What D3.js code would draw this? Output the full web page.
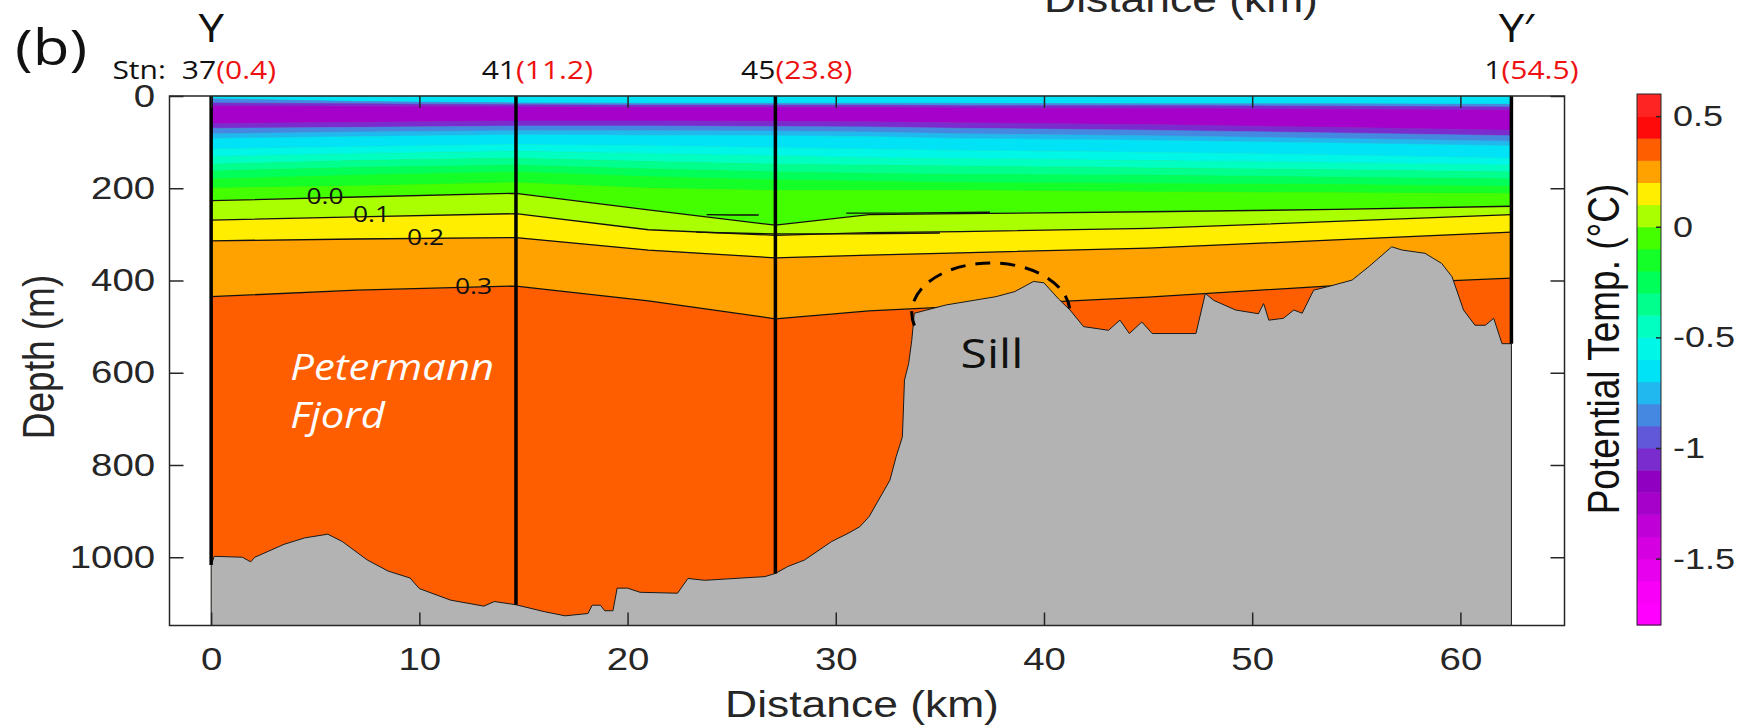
<!DOCTYPE html>
<html>
<head>
<meta charset="utf-8">
<script src="https://cdn.jsdelivr.net/npm/d3@7"></script>
<style>
  body { margin: 0; background: #fff; }
  svg { display: block; }
</style>
</head>
<body>
<div id="grafico"></div>
<script>
const tempLevels = [-1.8, -1.7, -1.6, -1.5, -1.4, -1.3, -1.2, -1.1, -1.0, -0.9, -0.8, -0.7,
                    -0.6, -0.5, -0.4, -0.3, -0.2, -0.1, 0.0, 0.1, 0.2, 0.3, 0.4, 0.5]
const palette = ['#ff00ff', '#f800f8', '#e600ee', '#d400e2', '#bf00d6', '#a600cb', '#9000c0', '#7a2ccf',
                 '#6058d8', '#4488e2', '#20b8ee', '#00e2f6', '#00f6e6', '#00ffc0', '#00ff8c', '#00ff58',
                 '#14ff28', '#44ff00', '#aaff00', '#ffee00', '#ffa200', '#ff5e00', '#ff0a0a', '#ff2424']

// distances (km) where the layer depths were read
const gridKm = [0, 7, 14.64, 21, 27.1, 31.6, 36, 45, 54, 62.45]

// upper water column: band temperature (lower bound) and depth of its bottom (m)
const upperLevels = [-0.7, -0.9, -1.1, -1.3, -1.1, -0.9, -0.8, -0.7, -0.6, -0.5, -0.4, -0.3, -0.2]
const upperDepths = [
  [6, 12, 15, 16, 16, 16, 16, 17, 17, 18],
  [15, 17, 19, 20, 20, 20, 21, 21, 22, 24],
  [22, 23, 24, 25, 25, 25, 26, 27, 29, 31],
  [60, 57, 54, 54, 55, 56, 58, 62, 68, 74],
  [70, 68, 65, 65, 66, 67, 70, 74, 80, 86],
  [82, 78, 75, 75, 76, 78, 82, 86, 92, 98],
  [92, 88, 84, 85, 86, 88, 92, 96, 102, 108],
  [115, 110, 105, 108, 112, 115, 118, 122, 128, 135],
  [132, 125, 120, 125, 130, 134, 136, 140, 145, 150],
  [148, 140, 135, 142, 148, 150, 152, 156, 160, 165],
  [163, 155, 150, 158, 165, 168, 170, 172, 176, 180],
  [180, 172, 165, 175, 182, 185, 188, 190, 192, 196],
  [200, 195, 188, 200, 205, 205, 205, 208, 210, 212]
]

// labelled isotherms (m)
const contourNames = ['0.0', '0.1', '0.2', '0.3']
const contour00 = [227, 219, 211, 247, 280, 257, 255, 251, 246, 239]
const contour01 = [269, 262, 255, 290, 302, 296, 294, 287, 272, 257]
const contour02 = [314, 310, 307, 334, 351, 345, 340, 330, 312, 295]
const contour03 = [435, 421, 412, 444, 483, 466, 456, 436, 411, 395]
const contourLabelKm = [5.47, 7.7, 10.3, 12.6]
const contourLabelDepth = [217, 256, 306, 412]

// small closed isotherms in the middle of the section
const lensKm = [[23.8, 25, 26.3], [30.5, 33, 37.4], [23.3, 25, 27.1, 31, 35]]
const lensDepth = [[257, 258, 258], [254, 254, 252], [295, 297, 299, 299, 297]]

// bottom topography
const bathyKm = [0, 0.15, 1.5, 1.9, 2.1, 3.5, 4.5, 5.6, 6.3, 7.5, 8.5, 9.55, 10, 11.5, 13.1, 13.6, 14.64,
                 16, 17, 18.1, 18.3, 18.7, 18.9, 19.3, 19.5, 20, 20.6, 22.4, 22.9, 23.7, 26.6, 27.1, 27.7,
                 28.5, 29.8, 30.6, 31.15, 31.6, 32.6, 32.9, 33.2, 33.3, 33.5, 33.65, 33.77, 35.3, 37.7, 38.6,
                 39.5, 40, 40.7, 41.25, 41.9, 43.1, 43.65, 44.1, 44.7, 45.2, 47.3, 47.75, 48.15, 49.2, 50.3,
                 50.55, 50.8, 51.5, 52, 52.4, 52.95, 53.75, 54.8, 55.6, 56.7, 57.2, 58.3, 59.1, 59.6, 60.15,
                 60.7, 61.2, 61.6, 62, 62.45]
const bathyDepth = [1017, 998, 1000, 1010, 1000, 972, 958, 950, 966, 1006, 1030, 1045, 1068, 1093, 1106, 1096, 1103,
                    1118, 1127, 1122, 1104, 1104, 1116, 1116, 1067, 1067, 1076, 1078, 1046, 1050, 1042, 1035, 1020,
                    1006, 966, 948, 934, 912, 833, 782, 739, 616, 580, 530, 471, 453, 435, 424,
                    402, 405, 440, 464, 500, 508, 486, 515, 490, 515, 515, 428, 443, 464, 472,
                    450, 486, 482, 464, 471, 421, 412, 399, 370, 327, 334, 341, 363, 392, 464,
                    497, 497, 482, 537, 537]

// CTD stations
const stationKm = [0, 14.64, 27.1, 62.45]
const stationIds = ['37', '41', '45', '1']
const stationDist = ['(0.4)', '(11.2)', '(23.8)', '(54.5)']
const stationBottom = [1017, 1103, 1035, 537]

const xTicks = [0, 10, 20, 30, 40, 50, 60]
const yTicks = [0, 200, 400, 600, 800, 1000]
const cbTicks = [0.5, 0, -0.5, -1, -1.5]
const cbTickLabels = ['0.5', '0', '-0.5', '-1', '-1.5']

// dashed arch over the sill (centre km / m, radii km / m)
const sillArc = { km: 37.45, depth: 470, rxKm: 3.8, ryM: 108 }

// ---- drawing ----
const width = 1739
const height = 726
const SX = 1.2      // the published figure is stretched sideways, text too
const ink = '#262626'
const arial = 'Liberation Sans, Arial, sans-serif'
const humanist = 'Open Sans, Noto Sans, sans-serif'

const x = d3.scaleLinear().domain([-2, 65]).range([169.5, 1564.5])
const y = d3.scaleLinear().domain([0, 1148]).range([96, 625.5])
const cbY = d3.scaleLinear().domain([-1.8, 0.6]).range([625, 94])
const color = d3.scaleThreshold().domain(tempLevels.slice(1)).range(palette)
const colorOf = t => color(t + 0.05)

const svg = d3.select('#grafico')
              .append('svg')
              .attr('width', width)
              .attr('height', height)

svg.append('rect')
   .attr('width', width)
   .attr('height', height)
   .attr('fill', '#fff')

const addText = (px, py, str, size, family, anchor) => svg.append('text')
    .attr('transform', `translate(${px},${py}) scale(${SX},1)`)
    .attr('font-family', family)
    .attr('font-size', size)
    .attr('text-anchor', anchor)
    .text(str)

const xEnd = stationKm[stationKm.length - 1]

// deepest class fills everything first
svg.append('rect')
   .attr('x', x(0))
   .attr('y', y(0))
   .attr('width', x(xEnd) - x(0))
   .attr('height', y(1148) - y(0))
   .attr('fill', colorOf(0.3))

// colour bands, surface downwards
const bandLevels = [...upperLevels, -0.1, 0.0, 0.1, 0.2]
const bandBottoms = [...upperDepths, contour00, contour01, contour02, contour03]
const surface = gridKm.map(() => 0)

const band = d3.area()
               .x(d => x(d.km))
               .y0(d => y(d.top))
               .y1(d => y(d.bottom))

svg.append('g')
   .selectAll('path')
   .data(bandLevels.map((lvl, i) => ({
       level: lvl,
       pts: gridKm.map((km, j) => ({ km, top: i === 0 ? surface[j] : bandBottoms[i - 1][j], bottom: bandBottoms[i][j] }))
   })))
   .enter()
   .append('path')
   .attr('d', d => band(d.pts))
   .attr('fill', d => colorOf(d.level))
   .attr('stroke', d => colorOf(d.level))
   .attr('stroke-width', 0.6)

// isotherm lines
const line = d3.line()
               .x(d => x(d[0]))
               .y(d => y(d[1]))

const isoLines = [contour00, contour01, contour02, contour03].map(arr => gridKm.map((km, j) => [km, arr[j]]))
lensKm.forEach((kms, i) => isoLines.push(kms.map((km, j) => [km, lensDepth[i][j]])))

svg.append('g')
   .selectAll('path')
   .data(isoLines)
   .enter()
   .append('path')
   .attr('d', line)
   .attr('fill', 'none')
   .attr('stroke', '#111')
   .attr('stroke-width', 1.3)

// sea floor
const floor = d3.area()
                .x(d => x(d[0]))
                .y0(y(1148))
                .y1(d => y(d[1]))

svg.append('path')
   .attr('d', floor(bathyKm.map((km, i) => [km, bathyDepth[i]])))
   .attr('fill', '#b3b3b3')
   .attr('stroke', '#1a1a1a')
   .attr('stroke-width', 1)
   .attr('stroke-linejoin', 'round')

// station casts
svg.append('g')
   .selectAll('line')
   .data(stationKm)
   .enter()
   .append('line')
   .attr('x1', d => x(d))
   .attr('x2', d => x(d))
   .attr('y1', y(0))
   .attr('y2', (d, i) => y(stationBottom[i]))
   .attr('stroke', '#000')
   .attr('stroke-width', 3.5)

// contour labels
contourNames.forEach((name, i) => {
    addText(x(contourLabelKm[i]), y(contourLabelDepth[i]), name, 22, humanist, 'middle')
        .attr('dy', '0.36em')
        .attr('fill', '#111')
})

// dashed sill outline
const a0 = 195 * Math.PI / 180
const a1 = 5 * Math.PI / 180
const rxPx = x(sillArc.km + sillArc.rxKm) - x(sillArc.km)
const ryPx = y(sillArc.depth + sillArc.ryM) - y(sillArc.depth)
const cx = x(sillArc.km)
const cy = y(sillArc.depth)
svg.append('path')
   .attr('d', `M${cx + rxPx * Math.cos(a0)},${cy - ryPx * Math.sin(a0)} A${rxPx},${ryPx} 0 1 1 ${cx + rxPx * Math.cos(a1)},${cy - ryPx * Math.sin(a1)}`)
   .attr('fill', 'none')
   .attr('stroke', '#000')
   .attr('stroke-width', 3)
   .attr('stroke-dasharray', '15,10')

addText(x(37.5), y(590), 'Sill', 40, humanist, 'middle').attr('fill', '#111')

svg.append('text')
   .attr('transform', `translate(${x(3.8)},${y(616)}) scale(1.13,1)`)
   .attr('font-family', humanist)
   .attr('font-size', 37)
   .attr('font-style', 'italic')
   .attr('fill', '#fff')
   .selectAll('tspan')
   .data(['Petermann', 'Fjord'])
   .enter()
   .append('tspan')
   .attr('x', 0)
   .attr('y', (d, i) => i * 48)
   .text(d => d)

// axes, MATLAB style ticks pointing inwards
const styleAxis = g => {
    g.attr('font-family', arial)
     .attr('font-size', 32)
     .attr('color', ink)
    g.select('.domain').remove()
    g.selectAll('.tick line').attr('stroke-width', 1.5)
    g.selectAll('.tick text').attr('transform', `scale(${SX},1)`)
}

svg.append('g')
   .attr('transform', `translate(0,${y(1148)})`)
   .call(d3.axisBottom(x).tickValues(xTicks).tickSizeInner(-13).tickSizeOuter(0).tickPadding(22).tickFormat(d3.format('d')))
   .call(styleAxis)

svg.append('g')
   .attr('transform', `translate(0,${y(0)})`)
   .call(d3.axisTop(x).tickValues(xTicks).tickSizeInner(-12).tickSizeOuter(0).tickFormat(''))
   .call(styleAxis)

svg.append('g')
   .attr('transform', `translate(${x(-2)},0)`)
   .call(d3.axisLeft(y).tickValues(yTicks).tickSizeInner(-14).tickSizeOuter(0).tickPadding(12).tickFormat(d3.format('d')))
   .call(styleAxis)

svg.append('g')
   .attr('transform', `translate(${x(65)},0)`)
   .call(d3.axisRight(y).tickValues(yTicks).tickSizeInner(-14).tickSizeOuter(0).tickFormat(''))
   .call(styleAxis)

svg.append('rect')
   .attr('x', x(-2))
   .attr('y', y(0))
   .attr('width', x(65) - x(-2))
   .attr('height', y(1148) - y(0))
   .attr('fill', 'none')
   .attr('stroke', ink)
   .attr('stroke-width', 1.5)

addText(862, 717, 'Distance (km)', 37, arial, 'middle').attr('fill', ink)
addText(1181, 11.5, 'Distance (km)', 37, arial, 'middle').attr('fill', ink)

svg.append('text')
   .attr('transform', `translate(53.5,357) scale(${SX},1) rotate(-90)`)
   .attr('font-family', arial)
   .attr('font-size', 37)
   .attr('text-anchor', 'middle')
   .attr('fill', ink)
   .text('Depth (m)')

// station header
const frameRight = x(65)
stationKm.forEach((km, i) => {
    let joint = x(km) + (i === 0 ? 5 : 0)
    const red = addText(joint, 79, stationDist[i], 25, humanist, 'start').attr('fill', '#ee1111')
    const redW = red.node().getComputedTextLength() * SX
    if (joint + redW > frameRight + 14) {
        joint = frameRight + 14 - redW
        red.attr('transform', `translate(${joint},79) scale(${SX},1)`)
    }
    const id = addText(joint, 79, stationIds[i], 25, humanist, 'end').attr('fill', '#111')
    if (i === 0) {
        const idW = id.node().getComputedTextLength() * SX
        addText(joint - idW - 16, 79, 'Stn:', 25, humanist, 'end').attr('fill', '#111')
    }
})

addText(x(stationKm[0]), 42, 'Y', 38, humanist, 'middle').attr('fill', '#111')
addText(x(xEnd), 42, 'Y', 38, humanist, 'middle').attr('fill', '#111')
addText(x(xEnd) + 12, 42, '\u2032', 38, humanist, 'start').attr('fill', '#111')
addText(15, 65, '(b)', 50, humanist, 'start').attr('fill', '#111')

// colour bar
const cbX = 1637
const cbW = 24
svg.append('g')
   .selectAll('rect')
   .data(tempLevels)
   .enter()
   .append('rect')
   .attr('x', cbX)
   .attr('width', cbW)
   .attr('y', (d, i) => cbY(i < tempLevels.length - 1 ? tempLevels[i + 1] : 0.6))
   .attr('height', (d, i) => cbY(d) - cbY(i < tempLevels.length - 1 ? tempLevels[i + 1] : 0.6) + 0.5)
   .attr('fill', d => colorOf(d))

svg.append('g')
   .attr('transform', `translate(${cbX + cbW},0)`)
   .call(d3.axisRight(cbY).tickValues(cbTicks).tickSizeInner(-5).tickSizeOuter(0).tickPadding(10)
           .tickFormat((d, i) => cbTickLabels[i]))
   .call(styleAxis)
   .call(g => g.attr('font-size', 30))

svg.append('rect')
   .attr('x', cbX)
   .attr('y', cbY(0.6))
   .attr('width', cbW)
   .attr('height', cbY(-1.8) - cbY(0.6))
   .attr('fill', 'none')
   .attr('stroke', ink)
   .attr('stroke-width', 1)

svg.append('text')
   .attr('transform', `translate(1619,349) scale(${SX},1) rotate(-90)`)
   .attr('font-family', arial)
   .attr('font-size', 37)
   .attr('text-anchor', 'middle')
   .attr('fill', '#111')
   .text('Potential Temp. (\u00b0C)')
</script>
</body>
</html>
